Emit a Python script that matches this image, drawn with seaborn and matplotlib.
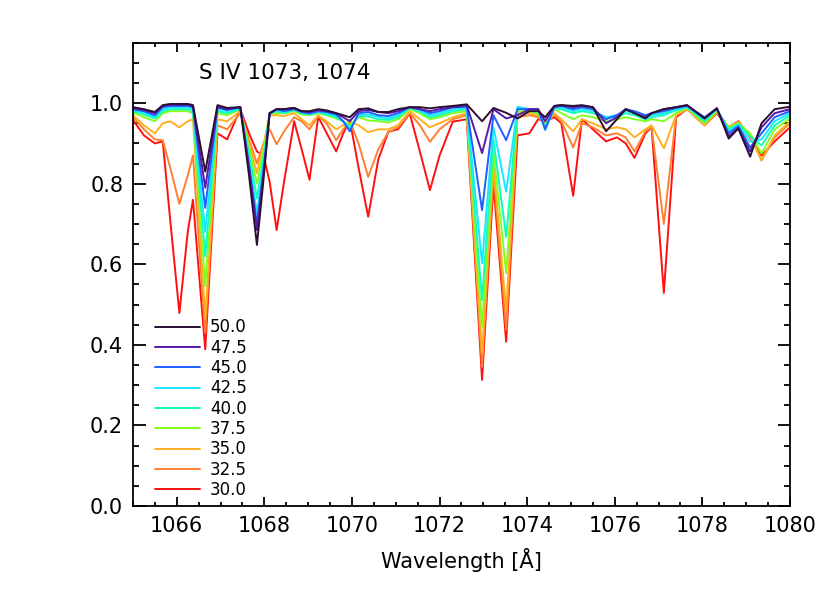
import matplotlib
matplotlib.use("Agg")
import matplotlib.pyplot as plt
import pandas as pd
import seaborn as sns
from matplotlib.ticker import MultipleLocator, FormatStrFormatter

# wavelength grid (Angstrom) shared by all model spectra
wavelength = [
    1065.00, 1065.25, 1065.50, 1065.68, 1065.85, 1066.06, 1066.25, 1066.37,
    1066.65, 1066.93, 1067.15, 1067.45, 1067.65, 1067.83, 1067.98, 1068.12,
    1068.28, 1068.45, 1068.68, 1068.85, 1069.03, 1069.23, 1069.42, 1069.64,
    1069.80, 1069.95, 1070.15, 1070.37, 1070.60, 1070.83, 1071.05, 1071.32,
    1071.55, 1071.78, 1072.00, 1072.30, 1072.62, 1072.97, 1073.23, 1073.52,
    1073.78, 1074.05, 1074.25, 1074.41, 1074.62, 1074.78, 1075.05, 1075.25,
    1075.50, 1075.80, 1076.05, 1076.25, 1076.45, 1076.70, 1076.84, 1077.12,
    1077.40, 1077.65, 1078.05, 1078.33, 1078.60, 1078.82, 1079.09, 1079.35,
    1079.65, 1080.00,
]

flux_500 = [
    0.990, 0.985, 0.978, 0.995, 0.998, 0.998, 0.998, 0.995,
    0.830, 0.995, 0.988, 0.990, 0.820, 0.648, 0.810, 0.975,
    0.985, 0.985, 0.988, 0.980, 0.980, 0.985, 0.982, 0.975,
    0.970, 0.965, 0.985, 0.987, 0.978, 0.978, 0.985, 0.990,
    0.990, 0.987, 0.990, 0.993, 0.997, 0.955, 0.988, 0.976,
    0.962, 0.980, 0.980, 0.965, 0.993, 0.995, 0.993, 0.995,
    0.990, 0.930, 0.960, 0.985, 0.975, 0.962, 0.975, 0.985,
    0.990, 0.995, 0.962, 0.987, 0.912, 0.937, 0.867, 0.950,
    0.985, 0.991,
]
flux_475 = [
    0.988, 0.983, 0.975, 0.993, 0.996, 0.996, 0.996, 0.992,
    0.790, 0.990, 0.985, 0.990, 0.840, 0.685, 0.825, 0.975,
    0.985, 0.985, 0.988, 0.980, 0.978, 0.983, 0.980, 0.975,
    0.965, 0.955, 0.980, 0.983, 0.978, 0.975, 0.980, 0.990,
    0.985, 0.980, 0.985, 0.990, 0.995, 0.876, 0.985, 0.962,
    0.970, 0.985, 0.985, 0.955, 0.993, 0.995, 0.990, 0.993,
    0.990, 0.950, 0.965, 0.985, 0.975, 0.965, 0.975, 0.985,
    0.990, 0.995, 0.962, 0.987, 0.918, 0.938, 0.880, 0.940,
    0.975, 0.985,
]
flux_450 = [
    0.985, 0.980, 0.970, 0.990, 0.993, 0.993, 0.993, 0.990,
    0.740, 0.990, 0.983, 0.990, 0.845, 0.700, 0.835, 0.975,
    0.985, 0.980, 0.985, 0.978, 0.975, 0.980, 0.978, 0.972,
    0.955, 0.930, 0.975, 0.978, 0.970, 0.968, 0.975, 0.990,
    0.985, 0.975, 0.980, 0.990, 0.990, 0.734, 0.970, 0.908,
    0.985, 0.985, 0.985, 0.935, 0.990, 0.993, 0.985, 0.990,
    0.985, 0.960, 0.970, 0.985, 0.980, 0.970, 0.975, 0.980,
    0.988, 0.993, 0.965, 0.987, 0.925, 0.943, 0.890, 0.925,
    0.965, 0.980,
]
flux_425 = [
    0.982, 0.977, 0.965, 0.985, 0.990, 0.990, 0.990, 0.985,
    0.680, 0.985, 0.980, 0.988, 0.858, 0.727, 0.847, 0.975,
    0.980, 0.980, 0.985, 0.977, 0.973, 0.978, 0.975, 0.968,
    0.955, 0.935, 0.970, 0.972, 0.966, 0.962, 0.970, 0.990,
    0.980, 0.970, 0.975, 0.985, 0.990, 0.602, 0.940, 0.780,
    0.990, 0.985, 0.985, 0.933, 0.990, 0.990, 0.980, 0.985,
    0.980, 0.965, 0.970, 0.980, 0.975, 0.965, 0.970, 0.975,
    0.985, 0.990, 0.960, 0.985, 0.930, 0.945, 0.904, 0.910,
    0.955, 0.975,
]
flux_400 = [
    0.980, 0.972, 0.962, 0.980, 0.985, 0.985, 0.985, 0.980,
    0.620, 0.980, 0.975, 0.985, 0.875, 0.764, 0.865, 0.975,
    0.980, 0.975, 0.983, 0.975, 0.972, 0.977, 0.972, 0.965,
    0.955, 0.940, 0.968, 0.967, 0.960, 0.958, 0.965, 0.988,
    0.980, 0.965, 0.970, 0.980, 0.985, 0.511, 0.910, 0.668,
    0.990, 0.985, 0.980, 0.940, 0.988, 0.985, 0.975, 0.980,
    0.975, 0.965, 0.965, 0.975, 0.970, 0.960, 0.965, 0.970,
    0.982, 0.990, 0.955, 0.983, 0.935, 0.948, 0.917, 0.895,
    0.945, 0.970,
]
flux_375 = [
    0.977, 0.965, 0.955, 0.975, 0.980, 0.980, 0.980, 0.975,
    0.545, 0.975, 0.970, 0.985, 0.890, 0.800, 0.882, 0.975,
    0.975, 0.975, 0.980, 0.972, 0.970, 0.975, 0.970, 0.962,
    0.955, 0.945, 0.965, 0.957, 0.955, 0.952, 0.960, 0.985,
    0.975, 0.960, 0.965, 0.975, 0.980, 0.445, 0.880, 0.578,
    0.980, 0.980, 0.975, 0.945, 0.985, 0.975, 0.960, 0.970,
    0.965, 0.955, 0.960, 0.965, 0.960, 0.955, 0.960, 0.955,
    0.975, 0.988, 0.950, 0.980, 0.940, 0.950, 0.925, 0.875,
    0.935, 0.962,
]
flux_350 = [
    0.970, 0.945, 0.925, 0.950, 0.955, 0.940, 0.955, 0.960,
    0.466, 0.960, 0.955, 0.980, 0.900, 0.826, 0.896, 0.970,
    0.970, 0.968, 0.975, 0.960, 0.945, 0.970, 0.955, 0.935,
    0.945, 0.955, 0.945, 0.928, 0.935, 0.935, 0.945, 0.980,
    0.960, 0.940, 0.950, 0.965, 0.975, 0.380, 0.850, 0.486,
    0.975, 0.975, 0.970, 0.950, 0.975, 0.960, 0.930, 0.960,
    0.950, 0.935, 0.940, 0.935, 0.915, 0.935, 0.945, 0.888,
    0.970, 0.985, 0.945, 0.978, 0.940, 0.952, 0.920, 0.858,
    0.920, 0.955,
]
flux_325 = [
    0.965, 0.935, 0.910, 0.908, 0.840, 0.750, 0.820, 0.870,
    0.430, 0.945, 0.935, 0.975, 0.910, 0.850, 0.900, 0.935,
    0.898, 0.930, 0.965, 0.955, 0.935, 0.968, 0.950, 0.908,
    0.935, 0.955, 0.900, 0.817, 0.885, 0.928, 0.940, 0.975,
    0.945, 0.904, 0.935, 0.960, 0.970, 0.346, 0.830, 0.437,
    0.965, 0.970, 0.965, 0.952, 0.970, 0.955, 0.890, 0.950,
    0.940, 0.920, 0.925, 0.915, 0.880, 0.930, 0.940, 0.700,
    0.970, 0.985, 0.945, 0.978, 0.940, 0.955, 0.918, 0.858,
    0.915, 0.950,
]
flux_300 = [
    0.958, 0.920, 0.900, 0.905, 0.710, 0.479, 0.680, 0.760,
    0.389, 0.925, 0.910, 0.985, 0.925, 0.880, 0.870, 0.805,
    0.685, 0.805, 0.955, 0.886, 0.810, 0.966, 0.926, 0.880,
    0.925, 0.958, 0.840, 0.718, 0.860, 0.929, 0.935, 0.974,
    0.880, 0.784, 0.870, 0.954, 0.960, 0.313, 0.800, 0.408,
    0.920, 0.925, 0.960, 0.955, 0.965, 0.950, 0.770, 0.960,
    0.935, 0.905, 0.915, 0.900, 0.864, 0.925, 0.940, 0.529,
    0.965, 0.985, 0.945, 0.975, 0.940, 0.955, 0.915, 0.870,
    0.905, 0.940,
]

temps = ['50.0', '47.5', '45.0', '42.5', '40.0', '37.5', '35.0', '32.5', '30.0']
fluxes = [flux_500, flux_475, flux_450, flux_425, flux_400,
          flux_375, flux_350, flux_325, flux_300]
colors = ['#2b0f33', '#5a18a8', '#1f5fff', '#18e8ff', '#10ffb8',
          '#80ff20', '#ffb020', '#ff8030', '#ff1010']

frames = []
for t, f in zip(temps, fluxes):
    frames.append(pd.DataFrame({'wave': wavelength, 'flux': f, 'temp': t}))
df = pd.concat(frames, ignore_index=True)

sns.set_style('ticks')
plt.rcParams['font.family'] = ['DejaVu Sans']
plt.rcParams['text.color'] = 'black'
plt.rcParams['axes.labelcolor'] = 'black'
plt.rcParams['xtick.color'] = 'black'
plt.rcParams['ytick.color'] = 'black'

fig = plt.figure(figsize=(8.3, 5.93), dpi=100)
ax = fig.add_axes([0.1602, 0.1467, 0.7916, 0.7813])

# draw coolest first so the hot spectra sit on top
sns.lineplot(data=df, x='wave', y='flux', hue='temp',
             hue_order=temps[::-1], palette=colors[::-1],
             estimator=None, sort=False, legend=False, lw=1.4, ax=ax)

ax.set_xlim(1065, 1080)
ax.set_ylim(0, 1.15)
ax.xaxis.set_major_locator(MultipleLocator(2))
ax.xaxis.set_minor_locator(MultipleLocator(0.5))
ax.yaxis.set_major_locator(MultipleLocator(0.2))
ax.yaxis.set_minor_locator(MultipleLocator(0.05))
ax.yaxis.set_major_formatter(FormatStrFormatter('%.1f'))
ax.tick_params(which='both', direction='in', top=True, right=True,
               width=1.3, labelsize=15, pad=7, color='black',
               labelcolor='black')
ax.tick_params(axis='x', which='major', length=6.5)
ax.tick_params(axis='x', which='minor', length=3.2)
ax.tick_params(axis='y', which='major', length=9)
ax.tick_params(axis='y', which='minor', length=4.5)
for sp in ax.spines.values():
    sp.set_linewidth(1.3)
    sp.set_color('black')

ax.set_xlabel('Wavelength [Å]', fontsize=15, labelpad=9, color='black')
ax.set_ylabel('')

ax.text(0.1005, 0.921, 'S IV 1073, 1074', transform=ax.transAxes,
        fontsize=15.5, va='baseline', ha='left', color='black')

handles = list(ax.lines)[::-1]
leg = ax.legend(handles, temps, loc='upper left', bbox_to_anchor=(0.0335, 0.405),
                frameon=False, fontsize=12, handlelength=2.7, handletextpad=0.6,
                labelspacing=0.14, borderpad=0, borderaxespad=0)
for txt in leg.get_texts():
    txt.set_color('black')

fig.savefig('out.png', dpi=100)
